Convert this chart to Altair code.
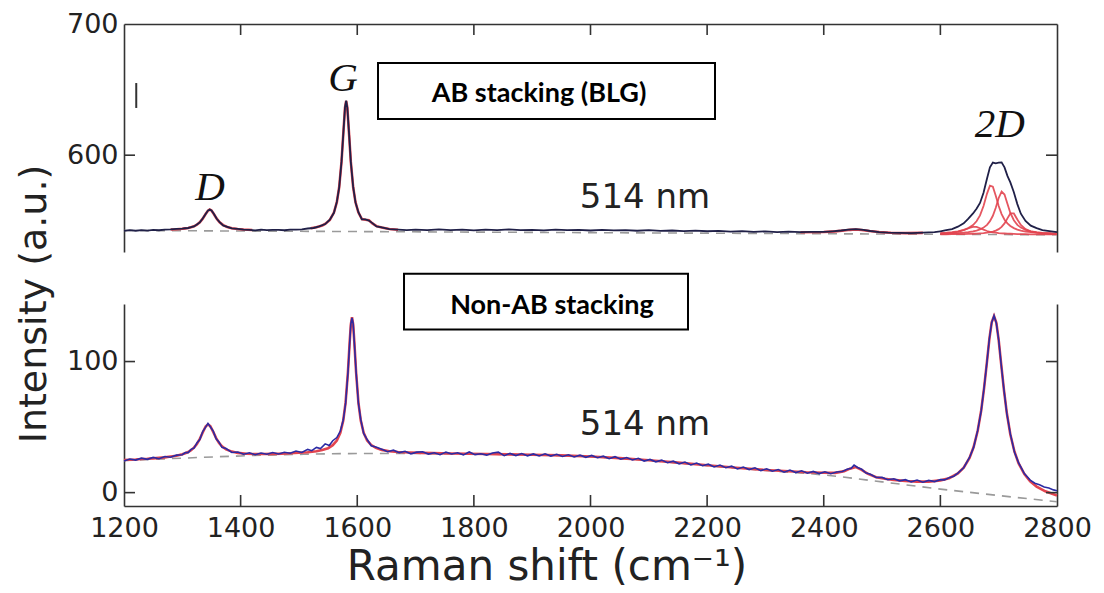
import altair as alt
import pandas as pd

# ---------------- axis ticks ----------------
x_ticks = [1200, 1400, 1600, 1800, 2000, 2200, 2400, 2600, 2800]
x_inner_ticks = [1400, 1600, 1800, 2000, 2200, 2400, 2600]
top_y_labels = [600, 700]
top_y_ticks = [600]
bot_y_ticks = [0, 100]
X_DOM = [1200, 2800]
TOP_DOM = [526.2, 700]
BOT_DOM = [-10.2, 143.9]

# ---------------- top panel (AB stacking) measured spectrum ----------------
top_x_a = [1200, 1210, 1220, 1230, 1240, 1250, 1260, 1270, 1280, 1290, 1300]
top_y_a = [542.3, 542.8, 542.4, 542.9, 542.5, 543.0, 542.8, 543.3, 543.4, 543.8, 544.0]
top_x_d = [1305, 1310, 1315, 1320, 1325, 1330, 1335, 1340, 1344, 1347, 1350, 1354, 1359, 1364, 1370, 1377, 1385, 1395, 1405]
top_y_d = [544.3, 544.5, 545.1, 545.7, 547.1, 548.8, 551.7, 555.1, 557.8, 558.6, 557.8, 555.3, 551.5, 549.0, 546.5, 545.4, 544.2, 543.8, 543.2]
top_x_b = [1415, 1425, 1435, 1445, 1455, 1465, 1475, 1485, 1495, 1505, 1515, 1525, 1535]
top_y_b = [543.1, 542.7, 543.2, 542.8, 543.0, 543.1, 542.8, 543.2, 543.3, 543.5, 544.1, 544.5, 545.7]
top_x_g = [1545, 1553, 1560, 1565, 1569, 1573, 1576, 1579, 1581, 1583, 1586, 1589, 1593, 1597, 1602, 1608, 1614, 1620, 1626, 1633, 1642, 1655, 1670, 1685]
top_y_g = [547.5, 550.8, 556.1, 564.4, 575.3, 595.1, 615.7, 636.4, 641.6, 636.0, 616.2, 594.7, 575.8, 564.0, 556.5, 551.1, 551.0, 550.2, 548.2, 545.7, 544.9, 543.6, 543.2, 542.9]
top_x_f = [1700, 1720, 1740, 1760, 1780, 1800, 1820, 1840, 1860, 1880, 1900, 1920, 1940, 1960, 1980, 2000, 2020, 2040,
           2060, 2080, 2100, 2120, 2140, 2160, 2180, 2200, 2220, 2240, 2260, 2280, 2300, 2320, 2340, 2360, 2380, 2400,
           2415, 2430, 2442, 2455, 2468, 2480, 2495, 2510, 2530, 2550, 2570, 2590]
top_y_f = [543.3, 542.8, 543.4, 542.9, 543.3, 542.7, 543.2, 542.9, 543.4, 542.8, 543.1, 542.7, 543.3, 542.8, 543.0, 542.6, 543.1, 542.7,
           542.9, 542.4, 542.8, 542.3, 542.6, 542.1, 542.5, 542.0, 542.3, 541.8, 542.1, 541.6, 541.9, 541.4, 541.7, 541.3, 541.6, 541.5,
           542.0, 542.6, 543.2, 543.6, 543.0, 542.2, 541.4, 541.0, 540.8, 540.6, 540.9, 541.3]
top_x_2d = [2600, 2610, 2620, 2630, 2640, 2648, 2656, 2662, 2668, 2674, 2680, 2685, 2690, 2695, 2700, 2705, 2710, 2715, 2720, 2726, 2732, 2738, 2746, 2755, 2765, 2775, 2790, 2800]
top_y_2d = [542.0, 542.8, 543.6, 545.5, 548.1, 551.6, 555.6, 559.2, 563.6, 571.4, 582.2, 590.8, 594.4, 593.8, 594.4, 594.5, 590.7, 584.2, 579.3, 571.8, 562.7, 555.4, 549.9, 546.3, 544.4, 542.9, 542.0, 541.4]

# top panel fitted curves (red)
fit_d_x = [1280, 1290, 1300, 1305, 1310, 1315, 1320, 1325, 1330, 1335, 1340, 1344, 1347, 1350, 1354, 1359, 1364, 1370, 1377, 1385, 1395, 1405, 1420]
fit_d_y = [543.4, 543.6, 543.9, 544.2, 544.5, 545.0, 545.8, 547.0, 548.9, 551.6, 555.2, 557.7, 558.6, 557.9, 555.2, 551.6, 548.9, 546.7, 545.3, 544.3, 543.7, 543.3, 543.0]
fit_g_x = [1520, 1530, 1540, 1545, 1553, 1560, 1565, 1569, 1573, 1576, 1579, 1581, 1583, 1586, 1589, 1593, 1597, 1602, 1608, 1614, 1620, 1626, 1633, 1642, 1655, 1670]
fit_g_y = [544.3, 545.0, 546.4, 547.6, 550.7, 556.3, 564.2, 575.5, 594.9, 615.9, 636.2, 641.4, 636.2, 615.9, 594.9, 575.5, 564.2, 556.3, 551.3, 550.8, 550.4, 548.0, 545.9, 544.8, 543.7, 543.2]
fit_b_x = [2360, 2400, 2420, 2435, 2445, 2455, 2465, 2478, 2495, 2515, 2540, 2570]
fit_b_y = [541.3, 541.4, 541.9, 542.6, 543.1, 543.4, 543.0, 542.2, 541.4, 540.9, 540.6, 540.8]

# 2D sub-components (red)
comp_x = [2600, 2610, 2620, 2630, 2640, 2648, 2656, 2662, 2668, 2674, 2680, 2685, 2690, 2695, 2700, 2705, 2710, 2715, 2720, 2726, 2732, 2738, 2746, 2755, 2765, 2775, 2790, 2800]
comp1_y = [540.1, 540.4, 540.8, 541.5, 542.8, 544.3, 545.4, 545.3, 544.3, 543.2, 542.2, 541.6, 541.2, 540.9, 540.6, 540.4, 540.3, 540.2, 540.1, 540.0, 539.9, 539.9, 539.8, 539.7, 539.7, 539.7, 539.6, 539.6]
comp2_y = [540.6, 540.9, 541.3, 542.0, 543.0, 544.4, 546.7, 549.6, 554.1, 561.2, 570.7, 576.8, 576.0, 569.1, 561.2, 555.1, 550.8, 548.0, 546.0, 544.4, 543.3, 542.5, 541.8, 541.3, 540.9, 540.6, 540.3, 540.2]
comp3_y = [540.1, 540.2, 540.4, 540.6, 540.9, 541.3, 541.9, 542.5, 543.4, 544.8, 546.9, 549.7, 553.8, 559.9, 567.4, 572.3, 570.0, 562.9, 556.0, 550.4, 546.9, 544.8, 543.1, 542.0, 541.3, 540.8, 540.4, 540.2]
comp4_y = [539.7, 539.7, 539.8, 539.8, 539.9, 540.0, 540.1, 540.2, 540.4, 540.6, 540.9, 541.3, 541.8, 542.5, 543.6, 545.3, 548.0, 551.8, 555.6, 555.6, 551.0, 546.8, 543.6, 541.9, 541.0, 540.5, 540.1, 540.0]

# top baseline (dashed)
top_base_x = [1200, 2800]
top_base_y = [542.6, 539.3]

# ---------------- bottom panel (non-AB stacking) measured spectrum ----------------
bot_x_a = [1200, 1210, 1220, 1230, 1240, 1250, 1260, 1270, 1280, 1290, 1300, 1305, 1310, 1315, 1320, 1325, 1330, 1335, 1340, 1344,
           1348, 1353, 1358, 1363, 1368, 1375, 1385, 1395, 1405, 1415, 1425, 1435, 1445, 1455, 1465, 1475, 1485, 1495, 1505, 1515,
           1522, 1530, 1537, 1545, 1552, 1558, 1565, 1571, 1576, 1580, 1584, 1587, 1589, 1591, 1593, 1595, 1598, 1602, 1606, 1611,
           1617, 1624, 1632]
bot_y_a = [24.2, 25.6, 24.8, 26.3, 25.4, 26.9, 25.9, 27.6, 27.0, 28.6, 28.9, 30.6, 30.5, 33.0, 34.0, 37.8, 40.5, 46.6, 50.0, 52.8,
           50.2, 46.9, 41.0, 38.5, 34.6, 33.6, 30.6, 31.0, 29.3, 30.4, 28.9, 30.2, 29.3, 30.6, 29.5, 30.8, 30.1, 31.7, 30.6, 33.0,
           32.0, 34.5, 33.6, 37.2, 36.0, 39.6, 42.0, 47.0, 55.4, 68.0, 91.0, 114.2, 128.8, 133.2, 128.9, 114.4, 92.3, 68.2, 55.8, 45.2,
           40.5, 35.8, 34.8]
bot_x_b = [1642, 1652, 1662, 1672, 1682, 1692, 1702, 1712, 1722, 1732, 1742, 1752, 1762, 1772, 1782, 1792, 1802, 1812, 1822, 1832,
           1842, 1852, 1862, 1872, 1882, 1892, 1902, 1912, 1922, 1932, 1942, 1952, 1962, 1972, 1982, 1992, 2002, 2012, 2022, 2032,
           2042, 2052, 2062, 2072, 2082, 2092, 2102, 2112, 2122, 2132, 2142, 2152, 2162, 2172, 2182, 2192, 2202, 2212, 2222, 2232,
           2242, 2252, 2262, 2272, 2282, 2292, 2302, 2312, 2322, 2332, 2342, 2352, 2362, 2372, 2382, 2392, 2402, 2412, 2422, 2432]
bot_y_b = [33.1, 31.2, 32.4, 30.5, 31.5, 29.6, 30.9, 31.2, 29.4, 30.4, 28.9, 30.9, 29.5, 30.4, 28.8, 31.0, 29.0, 29.7, 28.6, 30.2,
           30.9, 28.2, 29.9, 28.3, 29.8, 28.1, 29.5, 28.0, 29.6, 27.9, 29.3, 27.6, 28.9, 27.2, 28.6, 26.9, 28.4, 26.6, 27.8, 25.9,
           27.4, 25.5, 26.8, 24.9, 26.2, 24.1, 25.3, 23.5, 24.8, 22.8, 24.0, 22.0, 23.3, 21.1, 22.6, 20.5, 21.7, 19.6, 21.0, 19.0,
           20.2, 18.1, 19.5, 17.6, 18.9, 16.8, 18.2, 16.3, 17.6, 15.6, 17.2, 15.3, 16.7, 14.8, 16.2, 14.5, 15.9, 14.4, 15.8, 16.1]
bot_x_c = [2440, 2447, 2452, 2458, 2465, 2472, 2480, 2490, 2500, 2510, 2520, 2530, 2540, 2550, 2560, 2570, 2580, 2590, 2600, 2607,
           2615, 2623, 2630, 2640, 2650, 2657, 2664, 2670, 2675, 2680, 2684, 2688, 2692, 2696, 2700, 2704, 2709, 2714, 2720, 2727,
           2734, 2744, 2754, 2762, 2770, 2778, 2786, 2794, 2800]
bot_y_c = [17.8, 18.6, 21.0, 19.2, 17.8, 15.1, 14.0, 11.5, 11.6, 9.8, 10.6, 9.0, 9.9, 8.2, 9.6, 7.9, 9.3, 8.4, 9.9, 9.7,
           11.3, 12.5, 14.9, 19.0, 26.8, 34.5, 47.5, 62.4, 80.2, 100.1, 117.4, 129.6, 135.0, 129.2, 116.6, 98.9, 78.6, 60.2, 44.8, 31.0,
           22.9, 14.5, 9.6, 7.2, 6.0, 4.3, 3.6, 2.1, 1.5]

# bottom fitted curve (red)
bot_fit_x = [1200, 1210, 1220, 1230, 1240, 1250, 1260, 1270, 1280, 1290, 1300, 1305, 1310, 1315, 1320, 1325, 1330, 1335, 1340, 1344,
             1348, 1353, 1358, 1363, 1368, 1375, 1385, 1395, 1410, 1425, 1440, 1455, 1470, 1485, 1500, 1515, 1530, 1540, 1550, 1558,
             1565, 1571, 1576, 1580, 1584, 1587, 1589, 1591, 1593, 1595, 1598, 1602, 1606, 1611, 1617, 1624, 1632, 1642, 1655, 1670,
             1690, 1710, 1730, 1760, 1790, 1820, 1860, 1900, 1950, 2000, 2050, 2100, 2150, 2200, 2250, 2300, 2340, 2370, 2400, 2420,
             2435, 2445, 2455, 2465, 2475, 2490, 2505, 2520, 2540, 2560, 2580, 2600, 2615, 2630, 2640, 2650, 2657, 2664, 2670, 2675,
             2680, 2684, 2688, 2692, 2696, 2700, 2704, 2709, 2714, 2720, 2727, 2734, 2744, 2754, 2765, 2780, 2800]
bot_fit_y = [24.9, 25.1, 25.3, 25.6, 25.8, 26.1, 26.5, 26.9, 27.5, 28.1, 29.3, 30.0, 31.0, 32.4, 34.3, 37.1, 41.0, 45.9, 50.5, 52.1,
             50.7, 46.3, 41.6, 37.9, 35.3, 33.0, 31.3, 30.3, 29.7, 29.5, 29.5, 29.6, 29.7, 30.0, 30.4, 30.8, 31.6, 32.5, 33.9, 36.2,
             39.7, 45.6, 55.0, 68.6, 91.7, 114.9, 128.2, 133.8, 128.3, 115.0, 91.8, 68.7, 55.1, 45.7, 39.8, 36.3, 34.1, 32.6, 31.6, 31.0,
             30.6, 30.3, 30.1, 29.9, 29.7, 29.5, 29.2, 28.9, 28.4, 27.6, 26.3, 24.7, 22.9, 20.9, 19.0, 17.3, 16.3, 15.6, 15.2, 15.1,
             16.4, 18.3, 19.5, 17.4, 14.5, 11.7, 10.6, 9.7, 8.9, 8.4, 8.4, 9.35, 11.0, 14.6, 19.1, 26.5, 34.8, 47.2, 62.7, 79.9,
             100.4, 117.1, 129.9, 134.7, 129.5, 116.3, 99.2, 78.3, 60.5, 44.4, 31.4, 22.5, 14.1, 8.6, 4.6, 1.0, -2.25]

# bottom baseline (dashed)
bot_base_x = [1200, 1300, 1400, 1500, 1600, 1700, 1800, 1900, 2000, 2100, 2200, 2300, 2400, 2500, 2600, 2700, 2800]
bot_base_y = [24.5, 26.3, 28.0, 29.2, 29.8, 29.8, 29.4, 28.8, 27.4, 24.5, 20.6, 16.9, 13.5, 8.2, 2.7, -2.2, -7.0]

# ---------------- annotations ----------------
peak_labels = ["D", "G", "2D"]
peak_label_x = [1347.5, 1575.6, 2702]
peak_label_y = [565.6, 648.9, 613.7]
laser_label = ["514 nm"]
laser_x = [2093.5]
laser_top_y = [560.0]
laser_bot_y = [43.6]
top_box_text = ["AB stacking (BLG)"]
top_box_x = [1635.6]; top_box_x2 = [2213.5]; top_box_y = [627.5]; top_box_y2 = [670.2]
top_text_x = [1911.7]; top_text_y = [640.7]
bot_box_text = ["Non-AB stacking"]
bot_box_x = [1680.2]; bot_box_x2 = [2167.2]; bot_box_y = [124.4]; bot_box_y2 = [167.0]
bot_text_x = [1934.0]; bot_text_y = [136.3]
mark_x = [1221]; mark_y = [636]; mark_y2 = [655]

# ---------------- layout / styling ----------------
W = 933
TOP_H = 228
BOT_H = 202
TICK_LEN = 11     # px, ticks point inward (matplotlib style)
SPINE = "#333333"
NAVY = "#202048"
BLUE = "#2b2ba4"
RED = "#e2444f"
GREY = "#9a9a9a"
TXT = "#222222"

# ---------------- data frames ----------------
top_df = pd.DataFrame({"x": top_x_a + top_x_d + top_x_b + top_x_g + top_x_f + top_x_2d,
                       "y": top_y_a + top_y_d + top_y_b + top_y_g + top_y_f + top_y_2d})
top_fit_df = pd.concat([
    pd.DataFrame({"x": fit_d_x, "y": fit_d_y, "seg": "D"}),
    pd.DataFrame({"x": fit_g_x, "y": fit_g_y, "seg": "G"}),
    pd.DataFrame({"x": fit_b_x, "y": fit_b_y, "seg": "B"}),
])
comp_df = pd.concat([
    pd.DataFrame({"x": comp_x, "y": comp1_y, "comp": "c1"}),
    pd.DataFrame({"x": comp_x, "y": comp2_y, "comp": "c2"}),
    pd.DataFrame({"x": comp_x, "y": comp3_y, "comp": "c3"}),
    pd.DataFrame({"x": comp_x, "y": comp4_y, "comp": "c4"}),
])
top_base_df = pd.DataFrame({"x": top_base_x, "y": top_base_y})
bot_df = pd.DataFrame({"x": bot_x_a + bot_x_b + bot_x_c, "y": bot_y_a + bot_y_b + bot_y_c})
bot_fit_df = pd.DataFrame({"x": bot_fit_x, "y": bot_fit_y})
bot_base_df = pd.DataFrame({"x": bot_base_x, "y": bot_base_y})
peak_df = pd.DataFrame({"t": peak_labels, "x": peak_label_x, "y": peak_label_y})
laser_top_df = pd.DataFrame({"t": laser_label, "x": laser_x, "y": laser_top_y})
laser_bot_df = pd.DataFrame({"t": laser_label, "x": laser_x, "y": laser_bot_y})
top_box_df = pd.DataFrame({"x": top_box_x, "x2": top_box_x2, "y": top_box_y, "y2": top_box_y2})
top_text_df = pd.DataFrame({"t": top_box_text, "x": top_text_x, "y": top_text_y})
bot_box_df = pd.DataFrame({"x": bot_box_x, "x2": bot_box_x2, "y": bot_box_y, "y2": bot_box_y2})
bot_text_df = pd.DataFrame({"t": bot_box_text, "x": bot_text_x, "y": bot_text_y})
mark_df = pd.DataFrame({"x": mark_x, "y": mark_y, "y2": mark_y2})


def vtick_frame(dom, height, top_edge):
    """Vertical inward ticks along the top/bottom edge, tick length converted px -> data units."""
    uy = (dom[1] - dom[0]) / height
    edge = dom[1] if top_edge else dom[0]
    inner = edge - TICK_LEN * uy if top_edge else edge + TICK_LEN * uy
    return pd.DataFrame({"x": x_inner_ticks,
                         "y": [edge] * len(x_inner_ticks),
                         "y2": [inner] * len(x_inner_ticks)})


def htick_frame(yticks):
    """Horizontal inward ticks on the left and right edges."""
    ux = (X_DOM[1] - X_DOM[0]) / W
    xa = [X_DOM[0]] * len(yticks) + [X_DOM[1] - TICK_LEN * ux] * len(yticks)
    xb = [X_DOM[0] + TICK_LEN * ux] * len(yticks) + [X_DOM[1]] * len(yticks)
    return pd.DataFrame({"x": xa, "x2": xb, "y": list(yticks) * 2})


xs = alt.Scale(domain=X_DOM, nice=False, zero=False)
ys_top = alt.Scale(domain=TOP_DOM, nice=False, zero=False)
ys_bot = alt.Scale(domain=BOT_DOM, nice=False, zero=False)


def spine(orient, labels=None, **kw):
    d = dict(orient=orient, domain=True, domainColor=SPINE, domainWidth=1.6,
             ticks=False, tickSize=0, grid=False, title=None)
    if labels is not None:
        d.update(labels=True, values=labels, format="d", labelPadding=6, labelFlush=False,
                 labelOverlap=False, labelFont="DejaVu Sans", labelFontSize=27, labelColor=TXT)
    else:
        d.update(labels=False)
    d.update(kw)
    return alt.Axis(**d)


def XN():
    return alt.X("x:Q", scale=xs, axis=None)


def tick_layers(dom, height, top_edge, yticks, ys):
    v = alt.Chart(vtick_frame(dom, height, top_edge)).mark_rule(color=SPINE, strokeWidth=1.6).encode(
        x=XN(), y=alt.Y("y:Q", scale=ys, axis=None), y2="y2:Q")
    h = alt.Chart(htick_frame(yticks)).mark_rule(color=SPINE, strokeWidth=1.6).encode(
        x=XN(), x2="x2:Q", y=alt.Y("y:Q", scale=ys, axis=None))
    return [v, h]


# ---------------- top panel ----------------
t_base = alt.Chart(top_base_df).mark_line(strokeDash=[9, 7], color=GREY, strokeWidth=1.6).encode(
    x=alt.X("x:Q", scale=xs, axis=spine("top")),
    y=alt.Y("y:Q", scale=ys_top, axis=spine("left", labels=top_y_labels)))
t_fit = alt.Chart(top_fit_df).mark_line(color=RED, strokeWidth=2.6).encode(
    x=XN(), y=alt.Y("y:Q", scale=ys_top, axis=spine("right")), detail="seg:N")
t_comp = alt.Chart(comp_df).mark_line(color=RED, strokeWidth=1.8, opacity=0.9).encode(
    x=XN(), y=alt.Y("y:Q", scale=ys_top, axis=None), detail="comp:N")
t_meas = alt.Chart(top_df).mark_line(color=NAVY, strokeWidth=1.8).encode(
    x=XN(), y=alt.Y("y:Q", scale=ys_top, axis=None))
t_peaks = alt.Chart(peak_df).mark_text(font="Liberation Serif", fontStyle="italic", fontSize=41,
                                       align="center", baseline="alphabetic", color="#111111").encode(
    x=XN(), y=alt.Y("y:Q", scale=ys_top, axis=None), text="t:N")
t_laser = alt.Chart(laser_top_df).mark_text(font="DejaVu Sans", fontSize=34, align="center",
                                            baseline="alphabetic", color=TXT).encode(
    x=XN(), y=alt.Y("y:Q", scale=ys_top, axis=None), text="t:N")
t_box = alt.Chart(top_box_df).mark_rect(fill="white", stroke="black", strokeWidth=2).encode(
    x=XN(), x2="x2:Q", y=alt.Y("y:Q", scale=ys_top, axis=None), y2="y2:Q")
t_text = alt.Chart(top_text_df).mark_text(font="Lato", fontWeight="bold", fontSize=27, align="center",
                                          baseline="alphabetic", color="black").encode(
    x=XN(), y=alt.Y("y:Q", scale=ys_top, axis=None), text="t:N")
t_mark = alt.Chart(mark_df).mark_rule(color="#333333", strokeWidth=2).encode(
    x=XN(), y=alt.Y("y:Q", scale=ys_top, axis=None), y2="y2:Q")

top = alt.layer(t_base, t_fit, t_comp, t_meas, *tick_layers(TOP_DOM, TOP_H, True, top_y_ticks, ys_top),
                t_peaks, t_laser, t_box, t_text, t_mark).resolve_axis(
    x="independent", y="independent").properties(width=W, height=TOP_H)

# ---------------- bottom panel ----------------
b_base = alt.Chart(bot_base_df).mark_line(strokeDash=[9, 7], color=GREY, strokeWidth=1.6, interpolate="monotone").encode(
    x=alt.X("x:Q", scale=xs, axis=spine(
        "bottom", labels=x_ticks, title="Raman shift (cm⁻¹)", titleFont="DejaVu Sans",
        titleFontSize=42, titleFontWeight="normal", titleColor=TXT, titleX=422.5, titleY=73,
        titleAlign="center", titleBaseline="alphabetic", labelPadding=9)),
    y=alt.Y("y:Q", scale=ys_bot, axis=spine(
        "left", labels=bot_y_ticks, title="Intensity (a.u.)", titleFont="DejaVu Sans",
        titleFontSize=38, titleFontWeight="normal", titleColor=TXT, titleX=-90, titleY=-0.5,
        titleAngle=270, titleAlign="center", titleBaseline="middle")))
b_fit = alt.Chart(bot_fit_df).mark_line(color=RED, strokeWidth=2.6).encode(
    x=XN(), y=alt.Y("y:Q", scale=ys_bot, axis=spine("right")))
b_meas = alt.Chart(bot_df).mark_line(color=BLUE, strokeWidth=1.6).encode(
    x=XN(), y=alt.Y("y:Q", scale=ys_bot, axis=None))
b_laser = alt.Chart(laser_bot_df).mark_text(font="DejaVu Sans", fontSize=34, align="center",
                                            baseline="alphabetic", color=TXT).encode(
    x=XN(), y=alt.Y("y:Q", scale=ys_bot, axis=None), text="t:N")
b_box = alt.Chart(bot_box_df).mark_rect(fill="white", stroke="black", strokeWidth=2).encode(
    x=XN(), x2="x2:Q", y=alt.Y("y:Q", scale=ys_bot, axis=None), y2="y2:Q")
b_text = alt.Chart(bot_text_df).mark_text(font="Lato", fontWeight="bold", fontSize=27, align="center",
                                          baseline="alphabetic", color="black").encode(
    x=XN(), y=alt.Y("y:Q", scale=ys_bot, axis=None), text="t:N")

bottom = alt.layer(b_base, b_fit, b_meas, *tick_layers(BOT_DOM, BOT_H, False, bot_y_ticks, ys_bot),
                   b_laser, b_box, b_text).resolve_axis(
    x="independent", y="independent").properties(width=W, height=BOT_H)

chart = alt.vconcat(top, bottom, spacing=52, bounds="flush").properties(
    padding={"left": 14, "top": 10, "right": 5, "bottom": 5}, background="white"
).configure_view(strokeWidth=0)

chart.save("out.html", embed_options={"renderer": "svg", "actions": False})
